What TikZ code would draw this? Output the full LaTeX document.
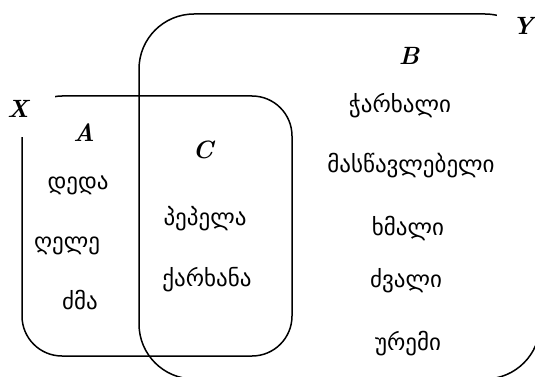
\documentclass[tikz,border=0pt]{standalone}
\usepackage{fontspec}
\newfontfamily\geofont{DejaVu Sans}
\usetikzlibrary{calc}
\tikzset{
	setname/.style={font=\fontsize{25}{30}\selectfont\bfseries\itshape},
	word/.style={font=\geofont\fontsize{23}{27}\selectfont},
}

\begin{document}
\begin{tikzpicture}[x=1pt, y=-1pt, line width=1.5pt]
			%%%%% START %%%%%
			
			\useasboundingbox (0, 0) rectangle (535, 377);
			
			\draw[rounded corners=55] (139, 14) rectangle (540, 379);
			\draw[rounded corners=40] (22, 96) rectangle (292, 356);
			
			\fill[white] (0, 80) rectangle (55, 137);
			\fill[white] (497, 0) rectangle (535, 50);
			
			\node[setname] (x) at (18, 109) {X};
			\node[setname] (y) at (523, 26) {Y};
			\node[setname] (a) at (84, 133) {A};
			\node[setname] (b) at (409, 56) {B};
			\node[setname] (c) at (203, 150) {C};
			
			\node[word] (deda) at (78, 185) {დედა};
			\node[word] (ghele) at (67, 246) {ღელე};
			\node[word] (dzma) at (80, 300) {ძმა};
			
			\node[word] (pepela) at (205, 219) {პეპელა};
			\node[word] (karkhana) at (207, 280) {ქარხანა};
			
			\node[word] (charkhali) at (400, 106) {ჭარხალი};
			\node[word] (mastsavlebeli) at (411, 166) {მასწავლებელი};
			\node[word] (khmali) at (408, 229) {ხმალი};
			\node[word] (dzvali) at (406, 281) {ძვალი};
			\node[word] (uremi) at (408, 344) {ურემი};
			
			%%%%% END %%%%%
		\end{tikzpicture}
\end{document}
